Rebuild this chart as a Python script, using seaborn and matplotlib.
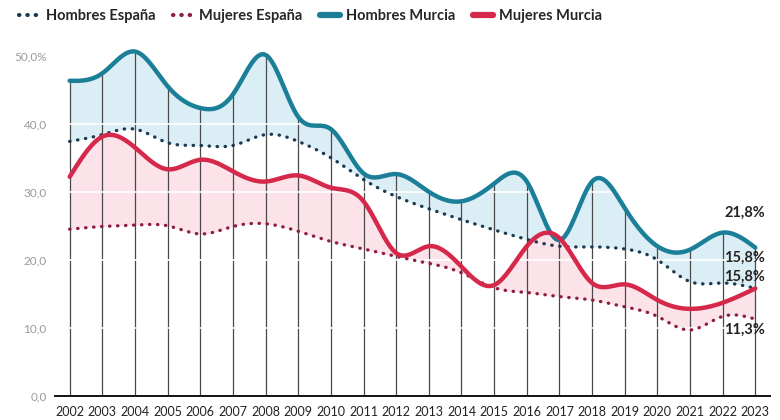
import numpy as np
import pandas as pd
import matplotlib
matplotlib.use("Agg")
import matplotlib.pyplot as plt
import seaborn as sns
from matplotlib.lines import Line2D

# data (percent)
years = list(range(2002, 2024))
hombres_murcia = [46.3, 47.4, 50.6, 45.5, 42.3, 44.3, 50.1, 41.0, 39.2, 32.7, 32.6,
                  30.0, 28.6, 31.2, 31.5, 22.9, 31.5, 27.6, 22.0, 21.5, 24.0, 21.8]
hombres_espana = [37.4, 38.4, 39.2, 37.2, 36.8, 36.8, 38.4, 37.4, 35.0, 31.8, 29.3,
                  27.5, 25.9, 24.4, 23.0, 22.0, 21.9, 21.6, 20.0, 16.8, 16.6, 15.8]
mujeres_murcia = [32.2, 38.1, 36.5, 33.3, 34.7, 33.0, 31.5, 32.4, 30.6, 28.6, 21.0,
                  22.0, 19.0, 16.3, 22.0, 23.2, 16.6, 16.4, 14.1, 12.8, 13.7, 15.8]
mujeres_espana = [24.5, 24.9, 25.1, 25.0, 23.8, 24.9, 25.3, 24.2, 22.7, 21.6, 20.5,
                  19.5, 18.1, 15.9, 15.2, 14.6, 14.1, 13.1, 11.7, 9.7, 11.7, 11.3]
end_labels = ["21,8%", "15,8%", "15,8%", "11,3%"]
end_label_y = [26.9, 20.3, 17.5, 9.7]

sns.set_style("white")
plt.rcParams['font.family'] = ['Lato', 'DejaVu Sans']


def spline(x, y, n=400):
    # natural cubic spline, just for drawing the smooth curves
    x = np.asarray(x, float)
    y = np.asarray(y, float)
    k = len(x)
    h = np.diff(x)
    A = np.zeros((k, k))
    b = np.zeros(k)
    A[0, 0] = A[-1, -1] = 1
    for i in range(1, k - 1):
        A[i, i - 1] = h[i - 1]
        A[i, i] = 2 * (h[i - 1] + h[i])
        A[i, i + 1] = h[i]
        b[i] = 3 * ((y[i + 1] - y[i]) / h[i] - (y[i] - y[i - 1]) / h[i - 1])
    c = np.linalg.solve(A, b)
    xs = np.linspace(x[0], x[-1], n)
    idx = np.clip(np.searchsorted(x, xs) - 1, 0, k - 2)
    dx = xs - x[idx]
    bb = (y[idx + 1] - y[idx]) / h[idx] - h[idx] * (2 * c[idx] + c[idx + 1]) / 3
    dd = (c[idx + 1] - c[idx]) / (3 * h[idx])
    ys = y[idx] + bb * dx + c[idx] * dx ** 2 + dd * dx ** 3
    return xs, ys


xs, hm = spline(years, hombres_murcia)
_, he = spline(years, hombres_espana)
_, mm = spline(years, mujeres_murcia)
_, me = spline(years, mujeres_espana)

c_hm = "#1c7f98"
c_mm = "#d5284a"
c_he = "#1d3b4f"
c_me = "#8e1d3e"

fig = plt.figure(figsize=(7.8, 4.2), dpi=100)
ax = fig.add_axes([55 / 780, 24 / 420, 715 / 780, 354 / 420])

ax.fill_between(xs, he, hm, color="#dbeef6", lw=0, zorder=1)
ax.fill_between(xs, me, mm, color="#fbe3e9", lw=0, zorder=1)

# vertical year lines up to the top curve
tops = np.max([hombres_murcia, mujeres_murcia, hombres_espana], axis=0)
ax.vlines(years, 0, tops, color="#4a4a4a", lw=0.9, zorder=2)
for g in [10, 20, 30, 40]:
    ax.axhline(g, color="white", lw=1.2, zorder=3)

df = pd.DataFrame({"x": xs, "hm": hm, "he": he, "mm": mm, "me": me})
dots = (0, (0.1, 2.3))
sns.lineplot(data=df, x="x", y="he", ax=ax, color=c_he, lw=2.4,
             linestyle=dots, dash_capstyle="round", zorder=4)
sns.lineplot(data=df, x="x", y="me", ax=ax, color=c_me, lw=2.4,
             linestyle=dots, dash_capstyle="round", zorder=4)
sns.lineplot(data=df, x="x", y="hm", ax=ax, color=c_hm, lw=3.2, zorder=5)
sns.lineplot(data=df, x="x", y="mm", ax=ax, color=c_mm, lw=3.2, zorder=6)

for lab, ly in zip(end_labels, end_label_y):
    ax.text(2023.3, ly, lab, ha="right", va="center", fontsize=10.5,
            fontweight="bold", color="#222222", zorder=7)

ax.set_xlim(2001.55, 2023.45)
ax.set_ylim(0, 52)
ax.set_xticks(years)
ax.set_xticklabels([str(y) for y in years], fontsize=9, color="#222222")
ax.set_yticks([0, 10, 20, 30, 40, 50])
ax.set_yticklabels(["0,0", "10,0", "20,0", "30,0", "40,0", "50,0%"],
                   fontsize=8.5, color="#9a9a9a")
ax.set_xlabel("")
ax.set_ylabel("")
for s in ["top", "right", "left"]:
    ax.spines[s].set_visible(False)
ax.spines["bottom"].set_color("#111111")
ax.spines["bottom"].set_linewidth(1.4)
ax.tick_params(axis="x", length=4, width=0.9, color="#333333", pad=3)
ax.tick_params(axis="y", length=0, pad=6)

handles = [
    Line2D([], [], color=c_he, lw=3, linestyle=(0, (0.1, 1.9)), dash_capstyle="round"),
    Line2D([], [], color=c_me, lw=3, linestyle=(0, (0.1, 1.9)), dash_capstyle="round"),
    Line2D([], [], color=c_hm, lw=4.5, solid_capstyle="round"),
    Line2D([], [], color=c_mm, lw=4.5, solid_capstyle="round"),
]
labels = ["Hombres España", "Mujeres España", "Hombres Murcia", "Mujeres Murcia"]
fig.legend(handles, labels, loc="upper left", bbox_to_anchor=(0.008, 1.01),
           ncol=4, frameon=False, handlelength=1.4, handletextpad=0.4,
           columnspacing=1.2, prop={"size": 10.5, "weight": "bold"})

fig.savefig("out.png", dpi=100)
